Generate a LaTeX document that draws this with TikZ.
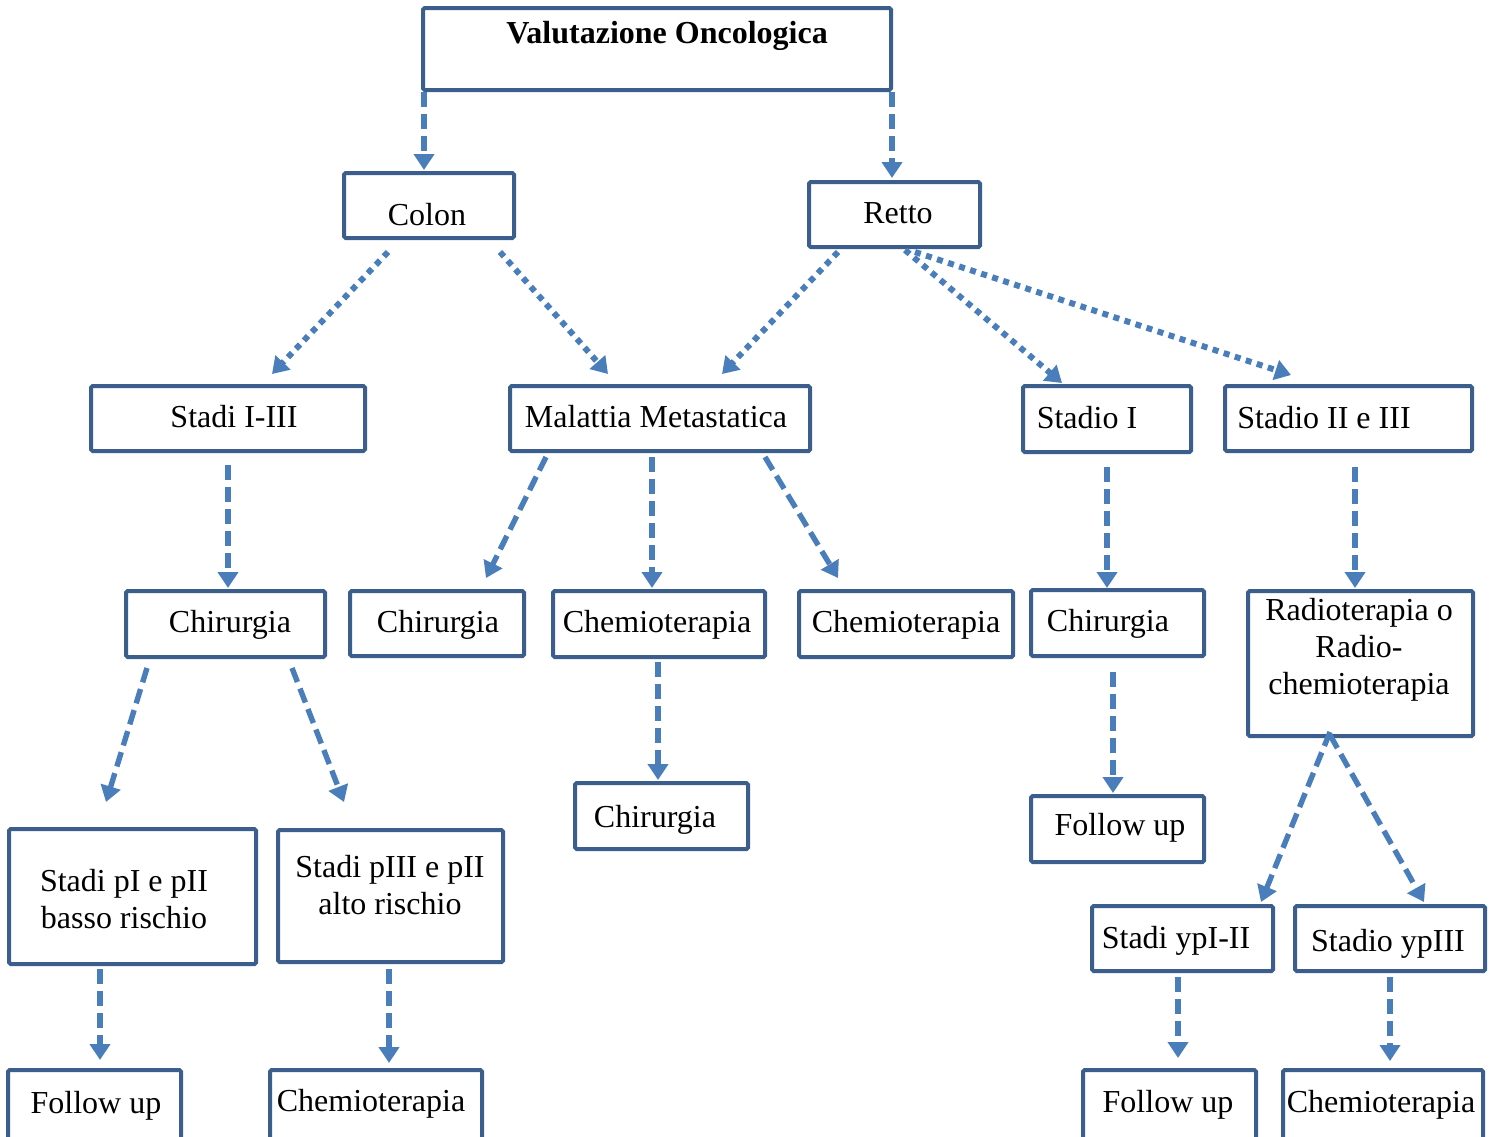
\documentclass[tikz,border=0pt]{standalone}
\usepackage{fontspec}
\setmainfont{Liberation Serif}
\usetikzlibrary{arrows.meta,calc}
\definecolor{bordc}{HTML}{3B5E8C}
\definecolor{arrc}{HTML}{4A7EBB}
\tikzset{
  bx/.style 2 args={draw=bordc, line width=2pt, rounded corners=0.8pt, fill=white,
    minimum width=#1*0.5pt, minimum height=#2*0.5pt, inner sep=0pt},
  tx/.style={anchor=base, inner sep=0pt, align=center,
    font=\fontsize{16}{18.5}\selectfont},
  dsh/.style={draw=arrc, line width=2.7pt, dash pattern=on 7.5pt off 3.5pt,
    -{Triangle[width=10pt,length=8pt]}},
  dtt/.style={draw=arrc, line width=3pt, dash pattern=on 3pt off 2.8pt,
    -{Triangle[width=10pt,length=8pt]}}
}
\begin{document}
\begin{tikzpicture}[x=0.5pt,y=-0.5pt]
\useasboundingbox (0,0) rectangle (1498,1136);
% boxes
\node[bx={468}{82}] (val) at (657,49) {};
\node[bx={170}{65}] (colon) at (429,205.5) {};
\node[bx={171}{65}] (retto) at (894.5,214.5) {};
\node[bx={274}{65}] (s13) at (228,418.5) {};
\node[bx={300}{65}] (mal) at (660,418.5) {};
\node[bx={168}{66}] (s1) at (1107,419) {};
\node[bx={247}{65}] (s23) at (1348.5,418.5) {};
\node[bx={199}{66}] (chir1) at (225.5,624) {};
\node[bx={174}{65}] (chir2) at (437,623.5) {};
\node[bx={212}{66}] (chem1) at (659,624) {};
\node[bx={214}{66}] (chem2) at (906,624) {};
\node[bx={173}{66}] (chir3) at (1117.5,623) {};
\node[bx={225}{145}] (radio) at (1360.5,663.5) {};
\node[bx={173}{66}] (chir4) at (661.5,816) {};
\node[bx={173}{66}] (fu1) at (1117.5,829) {};
\node[bx={247}{135}] (pI) at (132.5,896.5) {};
\node[bx={225}{132}] (pIII) at (390.5,896) {};
\node[bx={181}{65}] (yp12) at (1182.5,938.5) {};
\node[bx={190}{65}] (yp3) at (1390,938.5) {};
\node[bx={173}{70}] (fu2) at (94.5,1105) {};
\node[bx={212}{70}] (chem3) at (376,1105) {};
\node[bx={173}{70}] (fu3) at (1169.5,1105) {};
\node[bx={200}{70}] (chem4) at (1383,1105) {};
% texts
\node[tx] (val-t) at (667,43) {\bfseries Valutazione Oncologica};
\node[tx] (colon-t) at (427,225) {Colon};
\node[tx] (retto-t) at (898,223) {Retto};
\node[tx] (s13-t) at (234,427) {Stadi I-III};
\node[tx] (mal-t) at (656,427) {Malattia Metastatica};
\node[tx] (s1-t) at (1087,428) {Stadio I};
\node[tx] (s23-t) at (1324,428) {Stadio II e III};
\node[tx] (chir1-t) at (230,632) {Chirurgia};
\node[tx] (chir2-t) at (438,632) {Chirurgia};
\node[tx] (chem1-t) at (657,632) {Chemioterapia};
\node[tx] (chem2-t) at (906,632) {Chemioterapia};
\node[tx] (chir3-t) at (1108,631) {Chirurgia};
\node[tx] (radio-t) at (1359,694) {Radioterapia o\\Radio-\\chemioterapia};
\node[tx] (chir4-t) at (655,827) {Chirurgia};
\node[tx] (fu1-t) at (1120,835) {Follow up};
\node[tx] (pI-t) at (124,928) {Stadi pI e pII\\basso rischio};
\node[tx] (pIII-t) at (390,914) {Stadi pIII e pII\\alto rischio};
\node[tx] (yp12-t) at (1176,948) {Stadi ypI-II};
\node[tx] (yp3-t) at (1388,951) {Stadio ypIII};
\node[tx] (fu2-t) at (96,1113) {Follow up};
\node[tx] (chem3-t) at (371,1111) {Chemioterapia};
\node[tx] (fu3-t) at (1168,1112) {Follow up};
\node[tx] (chem4-t) at (1381,1112) {Chemioterapia};
% connectors
\draw[dsh] ($(val.south west)+(3,0)$) -- ($(colon.north)+(-5,-1)$);
\draw[dsh] ($(val.south east)+(-1,0)$) -- ($(retto.north)+(-2.5,-2)$);
\draw[dtt] ($(colon.south)+(-41,12)$) -- ($(s13.north)+(44,-10)$);
\draw[dtt] ($(colon.south)+(71,12)$) -- ($(mal.north)+(-52,-10)$);
\draw[dtt] ($(retto.south)+(-56.5,3)$) -- ($(mal.north)+(62,-10)$);
\draw[dtt] ($(retto.south)+(10.5,1)$) -- ($(s1.north)+(-45,-1)$);
\draw[dtt] ($(retto.south)+(20.5,3)$) -- ($(s23.north)+(-57.5,-9)$);
\draw[dsh] ($(s13.south)+(0,12)$) -- ($(chir1.north)+(2.5,-1)$);
\draw[dsh] ($(mal.south)+(-114,4)$) -- ($(chir2.north)+(49,-11)$);
\draw[dsh] ($(mal.south)+(-8,4)$) -- ($(chem1.north)+(-7,-1)$);
\draw[dsh] ($(mal.south)+(105,4)$) -- ($(chem2.north)+(-68,-11)$);
\draw[dsh] ($(s1.south)+(0,13)$) -- ($(chir3.north)+(-10.5,0)$);
\draw[dsh] ($(s23.south)+(6.5,14)$) -- ($(radio.north)+(-5.5,-1)$);
\draw[dsh] ($(chem1.south)+(-1,3)$) -- ($(chir4.north)+(-3.5,-1)$);
\draw[dsh] ($(chir1.south)+(-78.5,9)$) -- ($(pI.north)+(-26.5,-25)$);
\draw[dsh] ($(chir1.south)+(66.5,9)$) -- ($(pIII.north)+(-46.5,-26)$);
\draw[dsh] ($(chir3.south)+(-4.5,14)$) -- ($(fu1.north)+(-4.5,-1)$);
\draw[dsh] ($(radio.south)+(-30.5,-6)$) -- ($(yp12.north)+(78.5,-2)$);
\draw[dsh] ($(radio.south)+(-30.5,-3)$) -- ($(yp3.north)+(34,-2)$);
\draw[dsh] ($(pI.south)+(-32.5,3)$) -- ($(fu2.north)+(5.5,-8)$);
\draw[dsh] ($(pIII.south)+(-1.5,5)$) -- ($(chem3.north)+(13,-5)$);
\draw[dsh] ($(yp12.south)+(-4.5,4)$) -- ($(fu3.north)+(8.5,-10)$);
\draw[dsh] ($(yp3.south)+(0,4)$) -- ($(chem4.north)+(7,-7)$);
\end{tikzpicture}
\end{document}
